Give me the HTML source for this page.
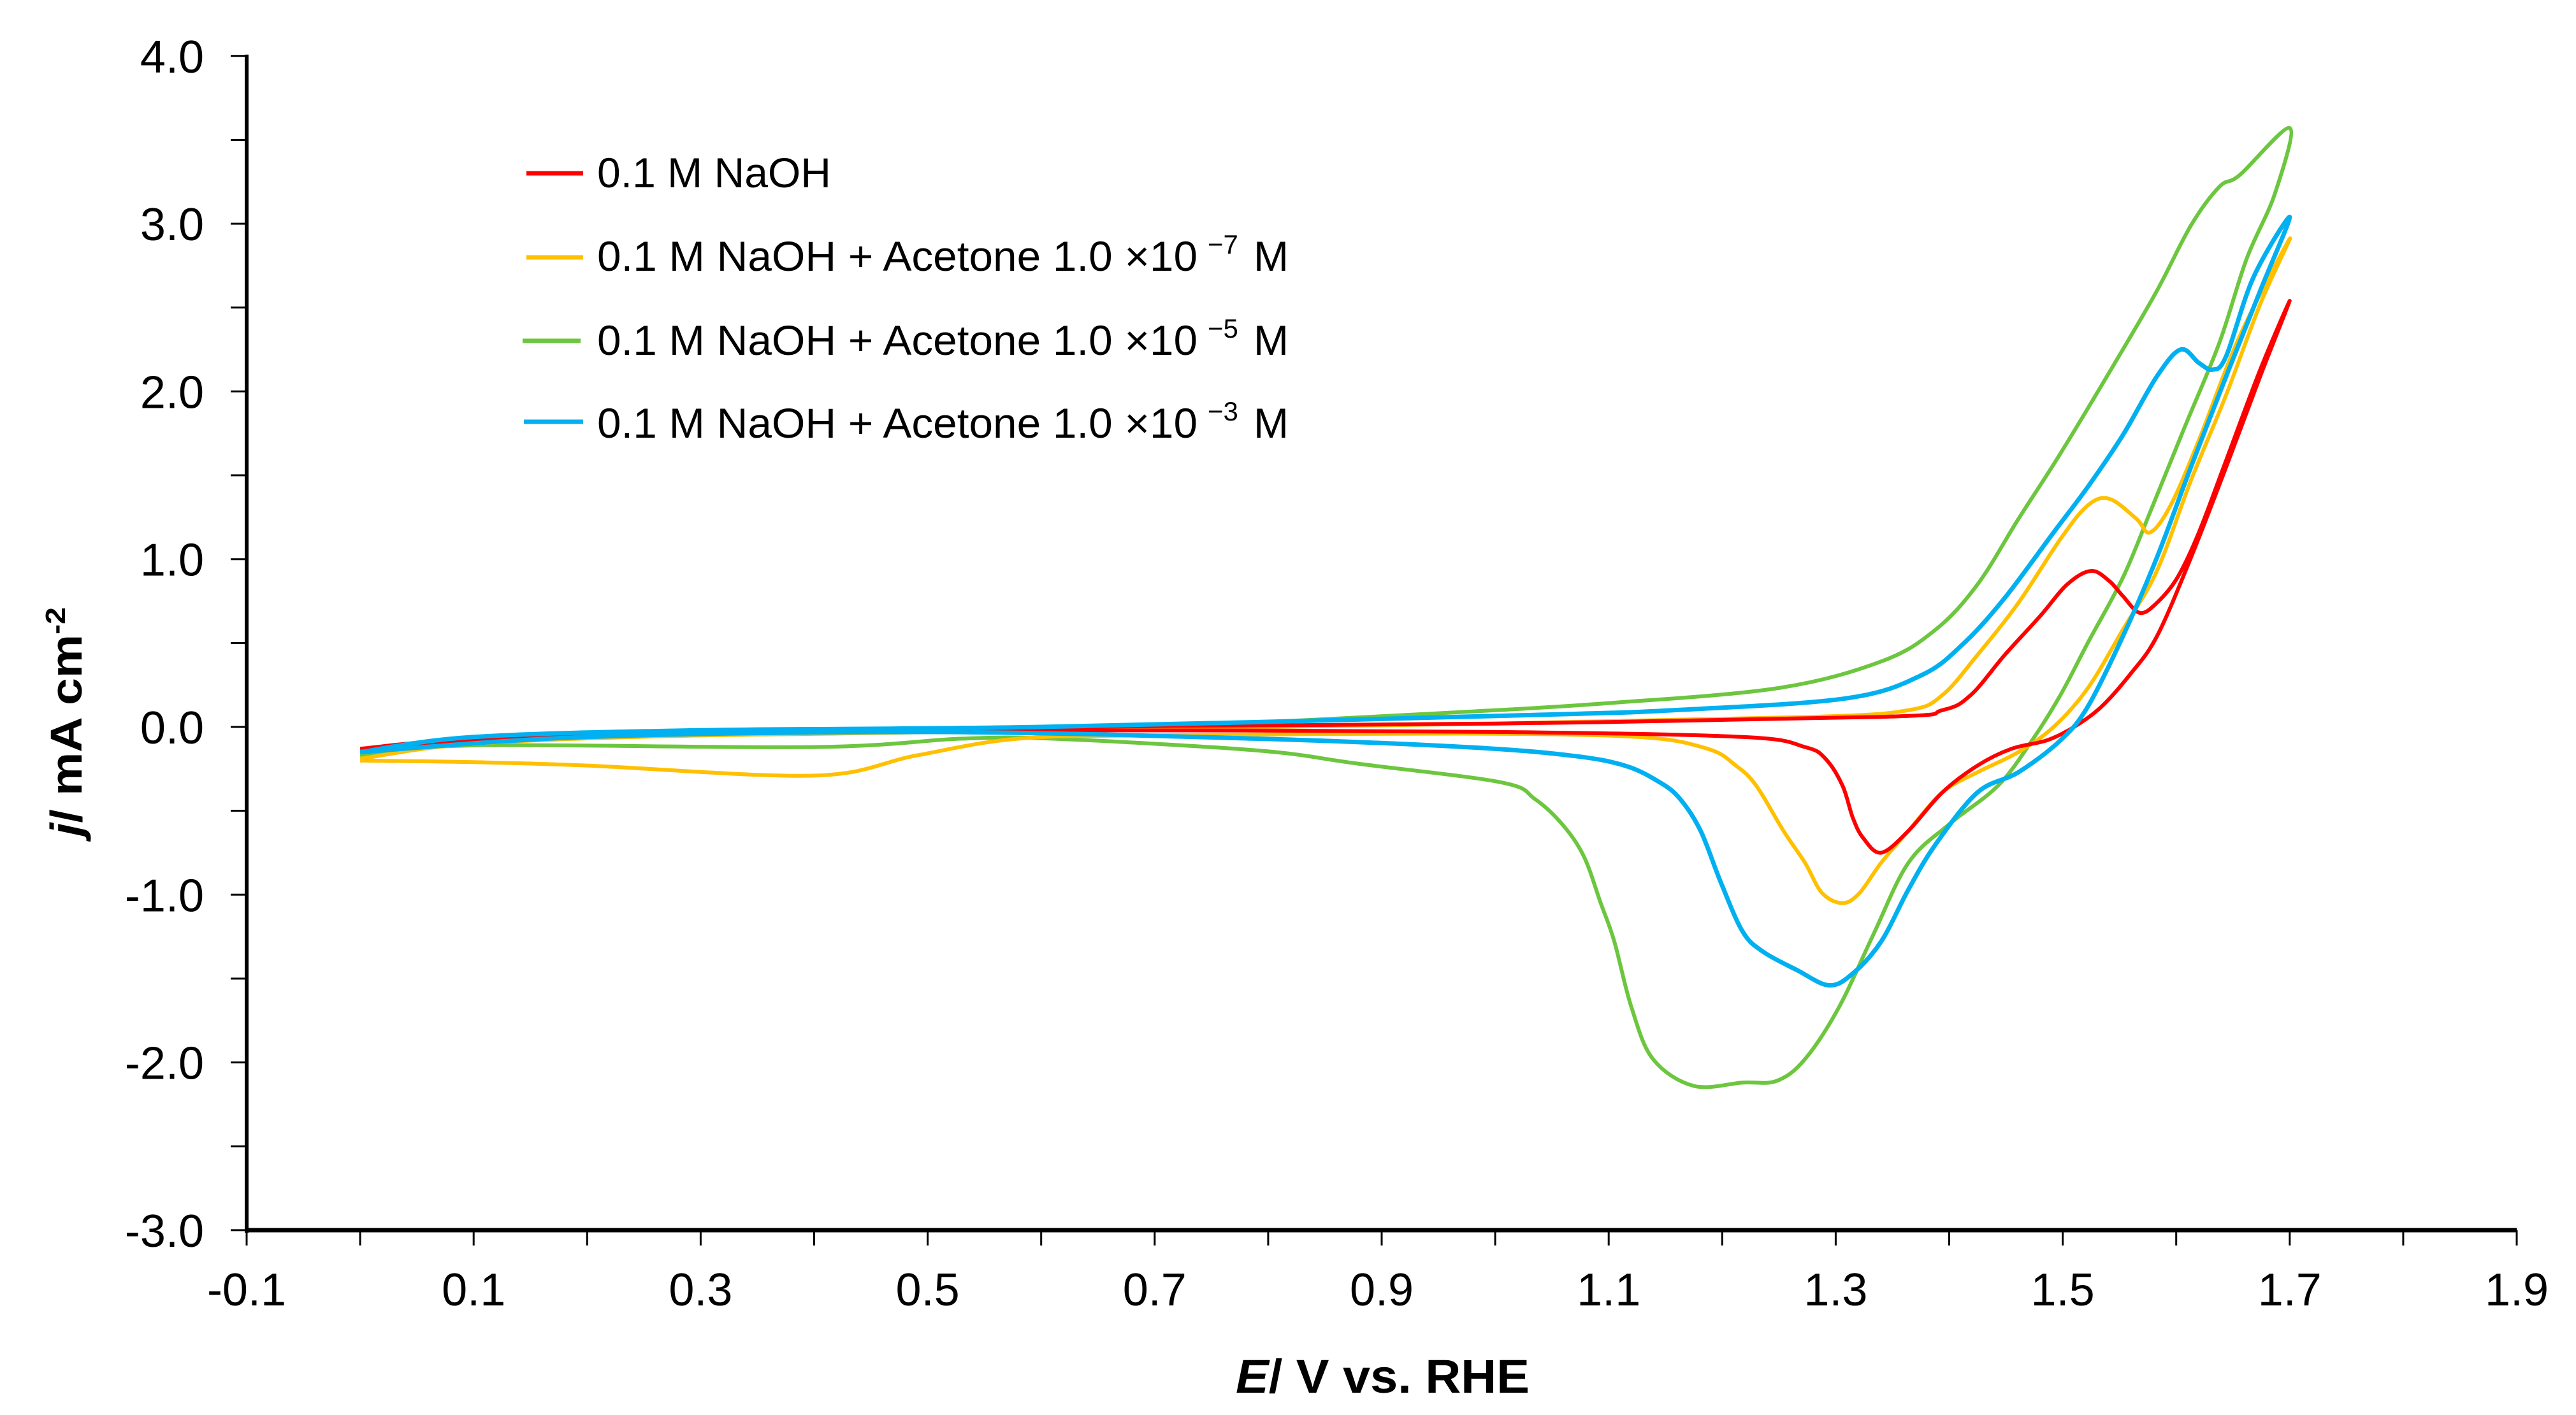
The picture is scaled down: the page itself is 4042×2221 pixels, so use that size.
<!DOCTYPE html>
<html><head><meta charset="utf-8"><style>
html,body{margin:0;padding:0;background:#fff}
svg{display:block}
text{font-family:"Liberation Sans",Arial,sans-serif;fill:#000}
</style></head><body>
<svg id="chart" width="4042" height="2221" viewBox="0 0 4042 2221" xmlns="http://www.w3.org/2000/svg">
<rect width="4042" height="2221" fill="#fff"/>
<g id="axes"></g>
<g id="series"></g>
<g id="legend">
  <line x1="826" y1="272" x2="915" y2="272" stroke="#FF0000" stroke-width="7"/>
  <text x="937" y="294" font-size="66" textLength="367" lengthAdjust="spacingAndGlyphs">0.1 M NaOH</text>
  <line x1="826" y1="404" x2="915" y2="404" stroke="#FFC000" stroke-width="7"/>
  <text x="937" y="425" font-size="66" textLength="942" lengthAdjust="spacingAndGlyphs">0.1 M NaOH + Acetone 1.0 ×10</text>
  <text x="1895" y="398" font-size="42">−7</text>
  <text x="1967" y="425" font-size="66">M</text>
  <line x1="820" y1="535" x2="911" y2="535" stroke="#6CC63E" stroke-width="7"/>
  <text x="937" y="557" font-size="66" textLength="942" lengthAdjust="spacingAndGlyphs">0.1 M NaOH + Acetone 1.0 ×10</text>
  <text x="1895" y="530" font-size="42">−5</text>
  <text x="1967" y="557" font-size="66">M</text>
  <line x1="822" y1="662" x2="915" y2="662" stroke="#00B0F0" stroke-width="7"/>
  <text x="937" y="687" font-size="66" textLength="942" lengthAdjust="spacingAndGlyphs">0.1 M NaOH + Acetone 1.0 ×10</text>
  <text x="1895" y="660" font-size="42">−3</text>
  <text x="1967" y="687" font-size="66">M</text>
</g>
<text transform="translate(128,1313) rotate(-90)" font-size="70" font-weight="bold" textLength="360" lengthAdjust="spacingAndGlyphs"><tspan font-style="italic">j</tspan>/ mA cm<tspan font-size="44" dy="-26">-2</tspan></text>
<text x="1939" y="2186" font-size="74" font-weight="bold" textLength="461" lengthAdjust="spacingAndGlyphs"><tspan font-style="italic">E</tspan>/ V  vs. RHE</text>
</svg>
<script>
// ---- data ----
const xTicks = [-0.1,0.1,0.3,0.5,0.7,0.9,1.1,1.3,1.5,1.7,1.9];
const xTickLabels = ["-0.1","0.1","0.3","0.5","0.7","0.9","1.1","1.3","1.5","1.7","1.9"];
const yTicks = [4,3,2,1,0,-1,-2,-3];
const yTickLabels = ["4.0","3.0","2.0","1.0","0.0","-1.0","-2.0","-3.0"];

const redE = [0.0,0.1,0.3,0.6,1.0,1.34,1.394,1.419,1.449,1.48,1.504,1.525,1.541,1.553,1.568,1.583,1.601,1.62,1.644,1.674,1.7,
  1.674,1.644,1.613,1.583,1.559,1.534,1.51,1.486,1.455,1.425,1.394,1.364,1.34,1.324,1.315,1.306,1.291,1.273,1.218,1.0,0.6,0.3,0.1,0.0];
const redJ = [-0.13,-0.07,-0.03,0.0,0.02,0.06,0.10,0.19,0.43,0.66,0.85,0.93,0.87,0.78,0.68,0.74,0.89,1.16,1.59,2.13,2.54,
  2.09,1.55,1.01,0.54,0.31,0.12,0.0,-0.08,-0.13,-0.23,-0.39,-0.62,-0.75,-0.66,-0.54,-0.35,-0.19,-0.12,-0.06,-0.03,-0.02,-0.04,-0.08,-0.13];

const yelE = [0.0,0.1,0.3,0.6,1.0,1.28,1.364,1.394,1.425,1.461,1.498,1.522,1.541,1.565,1.577,1.595,1.62,1.656,1.7,
  1.674,1.644,1.613,1.583,1.553,1.522,1.492,1.461,1.425,1.394,1.364,1.34,1.321,1.306,1.288,1.273,1.254,1.23,1.212,1.187,1.126,0.97,0.7,0.58,0.49,0.4,0.2,0.1,0.0];
const yelJ = [-0.19,-0.10,-0.05,-0.02,0.02,0.06,0.10,0.19,0.43,0.74,1.12,1.32,1.36,1.24,1.16,1.32,1.71,2.33,2.91,
  2.52,1.98,1.47,0.93,0.58,0.23,0.0,-0.15,-0.27,-0.39,-0.62,-0.81,-0.99,-1.05,-0.99,-0.81,-0.62,-0.35,-0.23,-0.13,-0.06,-0.04,-0.05,-0.07,-0.17,-0.29,-0.23,-0.21,-0.20];

const grnE = [0.0,0.1,0.3,0.61,0.8,0.974,1.096,1.248,1.34,1.388,1.425,1.461,1.498,1.546,1.583,1.613,1.638,1.656,1.7,
  1.687,1.662,1.638,1.607,1.577,1.553,1.522,1.498,1.473,1.443,1.4,1.364,1.333,1.303,1.273,1.248,1.218,1.175,1.139,1.12,1.105,1.093,1.078,1.059,1.035,1.005,0.88,0.79,0.61,0.53,0.4,0.1,0.0];
const grnJ = [-0.15,-0.09,-0.05,-0.02,0.03,0.09,0.14,0.23,0.39,0.58,0.85,1.24,1.63,2.17,2.60,2.99,3.22,3.29,3.57,
  3.18,2.79,2.29,1.78,1.28,0.89,0.50,0.19,-0.08,-0.35,-0.58,-0.81,-1.24,-1.67,-1.98,-2.11,-2.12,-2.14,-1.98,-1.67,-1.28,-1.05,-0.77,-0.58,-0.43,-0.33,-0.22,-0.14,-0.07,-0.07,-0.12,-0.11,-0.17];

const bluE = [0.0,0.1,0.3,0.6,1.025,1.157,1.309,1.376,1.413,1.449,1.492,1.522,1.553,1.583,1.604,1.62,1.632,1.644,1.668,1.7,
  1.674,1.644,1.613,1.583,1.553,1.522,1.498,1.461,1.425,1.388,1.364,1.34,1.315,1.294,1.266,1.236,1.218,1.199,1.181,1.163,1.145,1.114,1.066,0.974,0.79,0.5,0.2,0.0];
const bluJ = [-0.15,-0.06,-0.02,0.0,0.07,0.10,0.17,0.31,0.50,0.77,1.16,1.43,1.74,2.09,2.25,2.17,2.13,2.21,2.68,3.04,
  2.60,2.09,1.55,1.01,0.54,0.12,-0.08,-0.27,-0.39,-0.70,-0.97,-1.28,-1.47,-1.54,-1.45,-1.34,-1.22,-0.93,-0.62,-0.43,-0.33,-0.23,-0.17,-0.12,-0.07,-0.03,-0.06,-0.15];

// ---- scales ----
const X0 = 387, XPERV = 1781, Y0 = 1141, YPERU = 263.3;
function xs(v){ return X0 + (v + 0.1) * XPERV; }
function ys(j){ return Y0 - j * YPERU; }

const NS = "http://www.w3.org/2000/svg";
const axes = document.getElementById('axes');
function mk(tag, attrs, parent){
  const el = document.createElementNS(NS, tag);
  for (const k in attrs) el.setAttribute(k, attrs[k]);
  parent.appendChild(el);
  return el;
}

// y axis ticks (every 0.5)
for (let v = -3; v <= 4.001; v += 0.5) {
  const t = mk('line', {x1: xs(-0.1) - 25, x2: xs(-0.1), y1: ys(v), y2: ys(v), stroke: '#000', 'stroke-width': 3}, axes);
  
  
}
yTicks.forEach((v, i) => {
  const t = mk('text', {x: 320, y: ys(v) + 26, 'font-size': 72, 'text-anchor': 'end'}, axes);
  t.textContent = yTickLabels[i];
  
  
});
// x axis ticks (every 0.1)
for (let k = 0; k <= 20; k++) {
  const v = -0.1 + k * 0.1;
  const t = mk('line', {x1: xs(v), x2: xs(v), y1: ys(-3), y2: ys(-3) + 24, stroke: '#000', 'stroke-width': 3}, axes);
  
  
}
xTicks.forEach((v, i) => {
  const t = mk('text', {x: xs(v), y: 2049, 'font-size': 72, 'text-anchor': 'middle'}, axes);
  t.textContent = xTickLabels[i];
  
  
});
const ya = mk('line', {x1: xs(-0.1), x2: xs(-0.1), y1: ys(4) - 2, y2: ys(-3) + 4, stroke: '#000', 'stroke-width': 6}, axes);


const xa = mk('line', {x1: xs(-0.1) - 3, x2: xs(1.9), y1: ys(-3), y2: ys(-3), stroke: '#000', 'stroke-width': 7}, axes);



// series
const sg = document.getElementById('series');
function smoothPath(E, J){
  const p = E.map((e, i) => [xs(e), ys(J[i])]);
  let d = 'M' + p[0][0].toFixed(1) + ',' + p[0][1].toFixed(1);
  for (let i = 0; i < p.length - 1; i++) {
    const p0 = p[Math.max(i - 1, 0)], p1 = p[i], p2 = p[i + 1], p3 = p[Math.min(i + 2, p.length - 1)];
    const c1x = p1[0] + (p2[0] - p0[0]) / 6, c1y = p1[1] + (p2[1] - p0[1]) / 6;
    const c2x = p2[0] - (p3[0] - p1[0]) / 6, c2y = p2[1] - (p3[1] - p1[1]) / 6;
    d += 'C' + c1x.toFixed(1) + ',' + c1y.toFixed(1) + ' ' + c2x.toFixed(1) + ',' + c2y.toFixed(1) + ' ' + p2[0].toFixed(1) + ',' + p2[1].toFixed(1);
  }
  return d;
}
const g1 = mk('path', {d: smoothPath(grnE, grnJ), fill: 'none', stroke: '#6CC63E', 'stroke-width': 6, 'stroke-linejoin': 'round'}, sg);


const g2 = mk('path', {d: smoothPath(yelE, yelJ), fill: 'none', stroke: '#FFC000', 'stroke-width': 6, 'stroke-linejoin': 'round'}, sg);


const g3 = mk('path', {d: smoothPath(redE, redJ), fill: 'none', stroke: '#FF0000', 'stroke-width': 6, 'stroke-linejoin': 'round'}, sg);


const g4 = mk('path', {d: smoothPath(bluE, bluJ), fill: 'none', stroke: '#00B0F0', 'stroke-width': 7, 'stroke-linejoin': 'round'}, sg);


</script>
</body></html>
